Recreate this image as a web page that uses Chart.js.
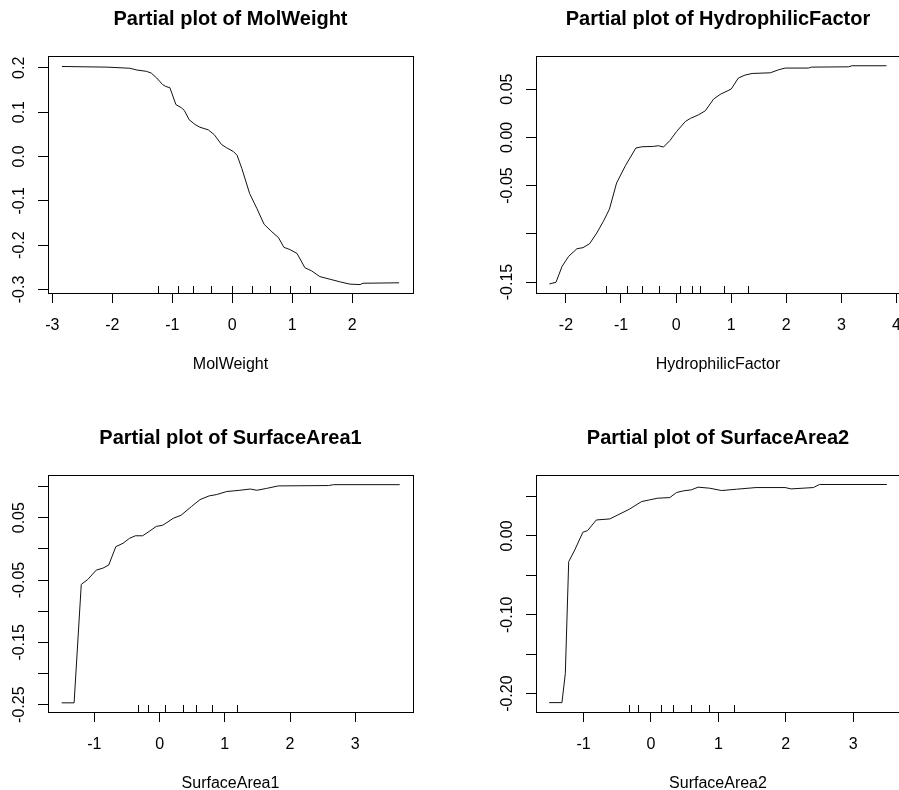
<!DOCTYPE html>
<html>
<head>
<meta charset="utf-8">
<title>Partial plots</title>
<script src="https://cdn.jsdelivr.net/npm/chart.js@4.4.1/dist/chart.umd.min.js"></script>
<style>
  html, body { margin: 0; padding: 0; background: #fff; }
  #wrap { position: relative; width: 899px; height: 790px; overflow: hidden; background: #fff; }
  #wrap canvas { position: absolute; }
</style>
</head>
<body>
<div id="wrap">
  <canvas id="molChart" width="450" height="395" style="left:0;top:0"></canvas>
  <canvas id="hydChart" width="470" height="395" style="left:450px;top:0"></canvas>
  <canvas id="sa1Chart" width="450" height="395" style="left:0;top:419px"></canvas>
  <canvas id="sa2Chart" width="470" height="395" style="left:450px;top:419px"></canvas>
</div>
<script>
// partial dependence curves (x grid, partial effect)
const molX = [-2.84, -2.09, -1.71, -1.59, -1.43, -1.35, -1.26, -1.16, -1.11, -1.04, -0.94, -0.85, -0.80, -0.72, -0.62, -0.54, -0.40, -0.30, -0.18, -0.10, 0.02, 0.08, 0.16, 0.29, 0.41, 0.53, 0.66, 0.77, 0.86, 0.96, 1.08, 1.21, 1.32, 1.46, 1.63, 1.80, 1.96, 2.13, 2.18, 2.78];
const molY = [0.203, 0.2015, 0.199, 0.195, 0.192, 0.188, 0.177, 0.162, 0.158, 0.155, 0.117, 0.110, 0.104, 0.083, 0.072, 0.066, 0.060, 0.049, 0.027, 0.020, 0.011, 0.0025, -0.0275, -0.084, -0.1175, -0.153, -0.170, -0.183, -0.205, -0.210, -0.219, -0.251, -0.258, -0.271, -0.277, -0.283, -0.288, -0.289, -0.286, -0.285];

const hydX = [-2.30, -2.18, -2.07, -1.95, -1.80, -1.69, -1.57, -1.44, -1.32, -1.21, -1.08, -0.92, -0.73, -0.62, -0.41, -0.32, -0.23, -0.11, 0.01, 0.17, 0.26, 0.41, 0.53, 0.68, 0.80, 1.00, 1.13, 1.25, 1.38, 1.71, 1.86, 1.98, 2.40, 2.46, 3.13, 3.19, 3.82];
const hydY = [-0.152, -0.1503, -0.1338, -0.1234, -0.1155, -0.1144, -0.1103, -0.0992, -0.0871, -0.0744, -0.0474, -0.0294, -0.0111, -0.0098, -0.0094, -0.0087, -0.0101, -0.0032, 0.0061, 0.0165, 0.0196, 0.0234, 0.0275, 0.0396, 0.0445, 0.0500, 0.0614, 0.0645, 0.0662, 0.0669, 0.0700, 0.0718, 0.0718, 0.0728, 0.0731, 0.0742, 0.0742];

const sa1X = [-1.50, -1.31, -1.20, -1.10, -0.97, -0.87, -0.78, -0.67, -0.56, -0.46, -0.37, -0.26, -0.16, -0.05, 0.05, 0.21, 0.33, 0.49, 0.62, 0.76, 0.87, 1.03, 1.23, 1.39, 1.49, 1.64, 1.82, 2.59, 2.67, 3.68];
const sa1Y = [-0.247, -0.247, -0.057, -0.049, -0.034, -0.031, -0.026, 0.0035, 0.009, 0.017, 0.021, 0.021, 0.028, 0.036, 0.038, 0.049, 0.054, 0.068, 0.079, 0.085, 0.087, 0.092, 0.094, 0.096, 0.094, 0.097, 0.101, 0.1016, 0.103, 0.103];

const sa2X = [-1.51, -1.32, -1.27, -1.22, -1.13, -1.01, -0.94, -0.81, -0.61, -0.49, -0.32, -0.14, -0.02, 0.10, 0.28, 0.38, 0.48, 0.60, 0.70, 0.87, 1.05, 1.27, 1.56, 1.99, 2.08, 2.41, 2.50, 3.50];
const sa2Y = [-0.2114, -0.2114, -0.1746, -0.0326, -0.0178, 0.0047, 0.0068, 0.0203, 0.0216, 0.0267, 0.0339, 0.0436, 0.0458, 0.0479, 0.0487, 0.0551, 0.0572, 0.0585, 0.0619, 0.0606, 0.0576, 0.0593, 0.0614, 0.0614, 0.0597, 0.0614, 0.0653, 0.0653];

// deciles of each predictor, drawn as a rug
const molRug = [-1.23, -0.89, -0.65, -0.34, 0.0, 0.33, 0.63, 0.97, 1.31];
const hydRug = [-1.26, -0.88, -0.61, -0.31, 0.08, 0.29, 0.44, 0.88, 1.31];
const sa1Rug = [-0.33, -0.17, 0.09, 0.36, 0.57, 0.81, 1.19];
const sa2Rug = [-0.32, -0.19, 0.16, 0.33, 0.60, 0.87, 1.24];

// axis ticks and labels
const molXTicks = [-3, -2, -1, 0, 1, 2];
const molYTicks = [-0.3, -0.2, -0.1, 0, 0.1, 0.2];
const molYLabels = ['-0.3', '-0.2', '-0.1', '0.0', '0.1', '0.2'];

const hydXTicks = [-2, -1, 0, 1, 2, 3, 4];
const hydYTicks = [-0.15, -0.10, -0.05, 0, 0.05];
const hydYLabels = ['-0.15', '', '-0.05', '0.00', '0.05'];

const sa1XTicks = [-1, 0, 1, 2, 3];
const sa1YTicks = [-0.25, -0.20, -0.15, -0.10, -0.05, 0, 0.05, 0.10];
const sa1YLabels = ['-0.25', '', '-0.15', '', '-0.05', '', '0.05', ''];

const sa2XTicks = [-1, 0, 1, 2, 3];
const sa2YTicks = [-0.20, -0.15, -0.10, -0.05, 0, 0.05];
const sa2YLabels = ['-0.20', '', '-0.10', '', '0.00', ''];

Chart.defaults.font.family = '"Liberation Sans", Arial, sans-serif';
Chart.defaults.font.size = 16;
Chart.defaults.color = '#000';

// closed box around the plot region
const frameBox = {
  id: 'frameBox',
  afterDraw(chart) {
    const { ctx, chartArea: a } = chart;
    const l = Math.round(a.left - 0.5) + 0.5, r = Math.round(a.right - 0.5) + 0.5;
    const t = Math.round(a.top - 0.5) + 0.5, b = Math.round(a.bottom - 0.5) + 0.5;
    ctx.save();
    ctx.strokeStyle = '#000';
    ctx.lineWidth = 1;
    ctx.strokeRect(l, t, r - l, b - t);
    ctx.restore();
  }
};

// short ticks along the bottom edge at the predictor deciles
const rugTicks = {
  id: 'rug',
  afterDatasetsDraw(chart, args, opts) {
    const { ctx, chartArea: a, scales } = chart;
    ctx.save();
    ctx.strokeStyle = '#000';
    ctx.lineWidth = 1;
    ctx.beginPath();
    (opts.values || []).forEach(v => {
      const x = Math.round(scales.x.getPixelForValue(v) - 0.5) + 0.5;
      ctx.moveTo(x, a.bottom);
      ctx.lineTo(x, a.bottom - 7);
    });
    ctx.stroke();
    ctx.restore();
  }
};

function partialPlot(id, p) {
  return new Chart(document.getElementById(id), {
    type: 'scatter',
    data: {
      datasets: [{
        data: p.x.map((v, i) => ({ x: v, y: p.y[i] })),
        showLine: true,
        borderColor: '#111',
        borderWidth: 1,
        pointRadius: 0,
        tension: 0,
        fill: false
      }]
    },
    options: {
      responsive: false,
      animation: false,
      devicePixelRatio: 1,
      layout: { padding: { left: 0, top: 0, bottom: 0, right: p.padRight } },
      plugins: {
        legend: { display: false },
        tooltip: { enabled: false },
        title: {
          display: true,
          text: p.title,
          fullSize: false,
          color: '#000',
          font: { size: 20, weight: 'bold' },
          padding: { top: 7, bottom: 25.5 }
        },
        rug: { values: p.rug }
      },
      scales: {
        x: {
          type: 'linear',
          min: p.xRange[0],
          max: p.xRange[1],
          afterBuildTicks: s => { s.ticks = p.xTicks.map(v => ({ value: v })); },
          afterFit: s => { s.height = 102; s.paddingLeft = 0; s.paddingRight = 0; },
          grid: { drawOnChartArea: false, tickLength: 10, color: '#000' },
          border: { color: '#000' },
          ticks: { autoSkip: false, minRotation: 0, maxRotation: 0, padding: 13, callback: v => String(v) },
          title: { display: true, text: p.xTitle, color: '#000', padding: { top: 0, bottom: 20.4 } }
        },
        y: {
          type: 'linear',
          min: p.yRange[0],
          max: p.yRange[1],
          afterBuildTicks: s => { s.ticks = p.yTicks.map(v => ({ value: v })); },
          afterFit: s => { s.width = p.axisLeft; s.paddingTop = 0; s.paddingBottom = 0; },
          grid: { drawOnChartArea: false, tickLength: 10, color: '#000' },
          border: { color: '#000' },
          ticks: {
            autoSkip: false, minRotation: 90, maxRotation: 90, crossAlign: 'center',
            padding: p.yPad, callback: (v, i) => p.yLabels[i]
          }
        }
      }
    },
    plugins: [frameBox, rugTicks]
  });
}

partialPlot('molChart', {
  title: 'Partial plot of MolWeight', xTitle: 'MolWeight',
  x: molX, y: molY, rug: molRug,
  xTicks: molXTicks, yTicks: molYTicks, yLabels: molYLabels,
  xRange: [-3.072, 3.012], yRange: [-0.308, 0.2255],
  axisLeft: 48, padRight: 37, yPad: 4.7
});

partialPlot('hydChart', {
  title: 'Partial plot of HydrophilicFactor', xTitle: 'HydrophilicFactor',
  x: hydX, y: hydY, rug: hydRug,
  xTicks: hydXTicks, yTicks: hydYTicks, yLabels: hydYLabels,
  xRange: [-2.543, 4.065], yRange: [-0.1614, 0.0838],
  axisLeft: 86, padRight: 20, yPad: 0.3
});

partialPlot('sa1Chart', {
  title: 'Partial plot of SurfaceArea1', xTitle: 'SurfaceArea1',
  x: sa1X, y: sa1Y, rug: sa1Rug,
  xTicks: sa1XTicks, yTicks: sa1YTicks, yLabels: sa1YLabels,
  xRange: [-1.71, 3.884], yRange: [-0.2617, 0.1177],
  axisLeft: 48, padRight: 37, yPad: 0.3
});

partialPlot('sa2Chart', {
  title: 'Partial plot of SurfaceArea2', xTitle: 'SurfaceArea2',
  x: sa2X, y: sa2Y, rug: sa2Rug,
  xTicks: sa2XTicks, yTicks: sa2YTicks, yLabels: sa2YLabels,
  xRange: [-1.705, 3.695], yRange: [-0.2233, 0.0767],
  axisLeft: 86, padRight: 20, yPad: 0.3
});
</script>
</body>
</html>
